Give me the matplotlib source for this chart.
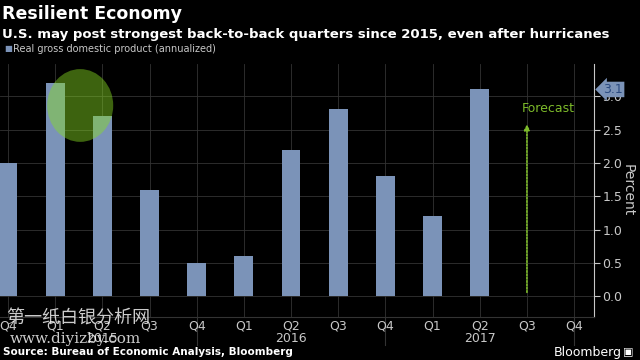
import numpy as np
import matplotlib.pyplot as plt
from matplotlib.patches import Ellipse

# data
quarters = ['Q4', 'Q1', 'Q2', 'Q3', 'Q4', 'Q1', 'Q2', 'Q3', 'Q4', 'Q1', 'Q2', 'Q3', 'Q4']
gdp = [2.0, 3.2, 2.7, 1.6, 0.5, 0.6, 2.2, 2.8, 1.8, 1.2, 3.1]
years = ['2015', '2016', '2017']
year_pos = [2, 6, 10]
year_sep = [4, 8, 12]
yticks = [0.0, 0.5, 1.0, 1.5, 2.0, 2.5, 3.0]
forecast_idx = 11

bar_col = '#7b93b8'
grid_col = '#333333'
txt_col = '#c8c8c8'
green = '#7dbb2a'

plt.rcParams['font.family'] = ['Liberation Sans Narrow', 'DejaVu Sans']

fig = plt.figure(figsize=(6.4, 3.6), dpi=100, facecolor='black')
ax = fig.add_axes([0.0, 0.119, 0.928, 0.703])
ax.set_facecolor('black')

x = np.arange(len(quarters))
ax.bar(x[:len(gdp)], gdp, width=0.4, color=bar_col, zorder=3)

ax.set_xlim(-0.17, 12.42)
ax.set_ylim(-0.31, 3.48)

# grid
for xi in x:
    ax.axvline(xi, color=grid_col, lw=0.6, zorder=1)
for yv in yticks:
    ax.axhline(yv, color=grid_col, lw=0.6, zorder=1)

ax.yaxis.tick_right()
ax.set_yticks(yticks)
ax.set_yticklabels(['%.1f' % v for v in yticks], color=txt_col, fontsize=9)
ax.tick_params(axis='y', colors=txt_col, length=4, width=0.8, pad=2)
ax.set_xticks(x)
ax.set_xticklabels(quarters, color=txt_col, fontsize=9)
ax.tick_params(axis='x', length=0, pad=2)
for s in ['top', 'left']:
    ax.spines[s].set_visible(False)
ax.spines['bottom'].set_color(grid_col)
ax.spines['bottom'].set_linewidth(0.8)
ax.spines['right'].set_color(txt_col)
ax.spines['right'].set_linewidth(0.8)
ax.yaxis.set_label_position('right')
ax.set_ylabel('Percent', color=txt_col, fontsize=10, rotation=-90, labelpad=9)

# year labels and separators
tr = ax.get_xaxis_transform()
for yp, yl in zip(year_pos, years):
    ax.text(yp, -0.083, yl, ha='center', va='center', color=txt_col, fontsize=9,
            transform=tr, clip_on=False)
for xs in year_sep:
    ax.plot([xs, xs], [0, -0.11], color=grid_col, lw=0.8, transform=tr,
            clip_on=False, zorder=0)

# highlight circle
ax.add_patch(Ellipse((1.53, 2.86), 1.4, 1.09, color='#88dd22', alpha=0.45, lw=0, zorder=4))

# forecast arrow
ax.annotate('', xy=(forecast_idx, 2.62), xytext=(forecast_idx, 0.02),
            arrowprops=dict(arrowstyle='-|>', color=green, lw=1.2, ls=(0, (1, 1)),
                            mutation_scale=8), zorder=4)
ax.text(forecast_idx + 0.45, 2.82, 'Forecast', color=green, fontsize=9,
        ha='center', va='center')

# last value tag
ax.text(12.62, 3.1, '3.1', color='#2a4a80', fontsize=9, ha='left', va='center',
        clip_on=False, bbox=dict(boxstyle='larrow,pad=0.1', fc=bar_col, ec='none'))

# titles
fig.text(0.003, 0.962, 'Resilient Economy', color='white', fontsize=12.5,
         fontweight='bold', family=['DejaVu Sans'], va='center')
fig.text(0.003, 0.905, 'U.S. may post strongest back-to-back quarters since 2015, even after hurricanes',
         color='white', fontsize=9.5, fontweight='bold', family=['DejaVu Sans'], va='center')
fig.text(0.006, 0.865, '\u25a0', color=bar_col, fontsize=6, va='center')
fig.text(0.02, 0.865, 'Real gross domestic product (annualized)', color=txt_col,
         fontsize=7, va='center')

# footer
fig.text(0.005, 0.022, 'Source: Bureau of Economic Analysis, Bloomberg', color='white',
         fontsize=7.5, fontweight='bold', family=['DejaVu Sans'], va='center')
fig.text(0.972, 0.022, 'Bloomberg', color='white', fontsize=9, family=['DejaVu Sans'],
         ha='right', va='center')
fig.text(0.99, 0.022, '\u25a3', color='white', fontsize=8, family=['DejaVu Sans'],
         ha='right', va='center')

# watermark
fig.text(0.01, 0.115, '第一纸白银分析网', color='white', alpha=0.8, fontsize=13,
         family=['Noto Sans CJK SC', 'DejaVu Sans'], va='center')
fig.text(0.015, 0.057, 'www.diyizby.com', color='white', alpha=0.8, fontsize=11,
         family=['DejaVu Serif'], va='center')

fig.savefig('out.png', dpi=100, facecolor='black')
